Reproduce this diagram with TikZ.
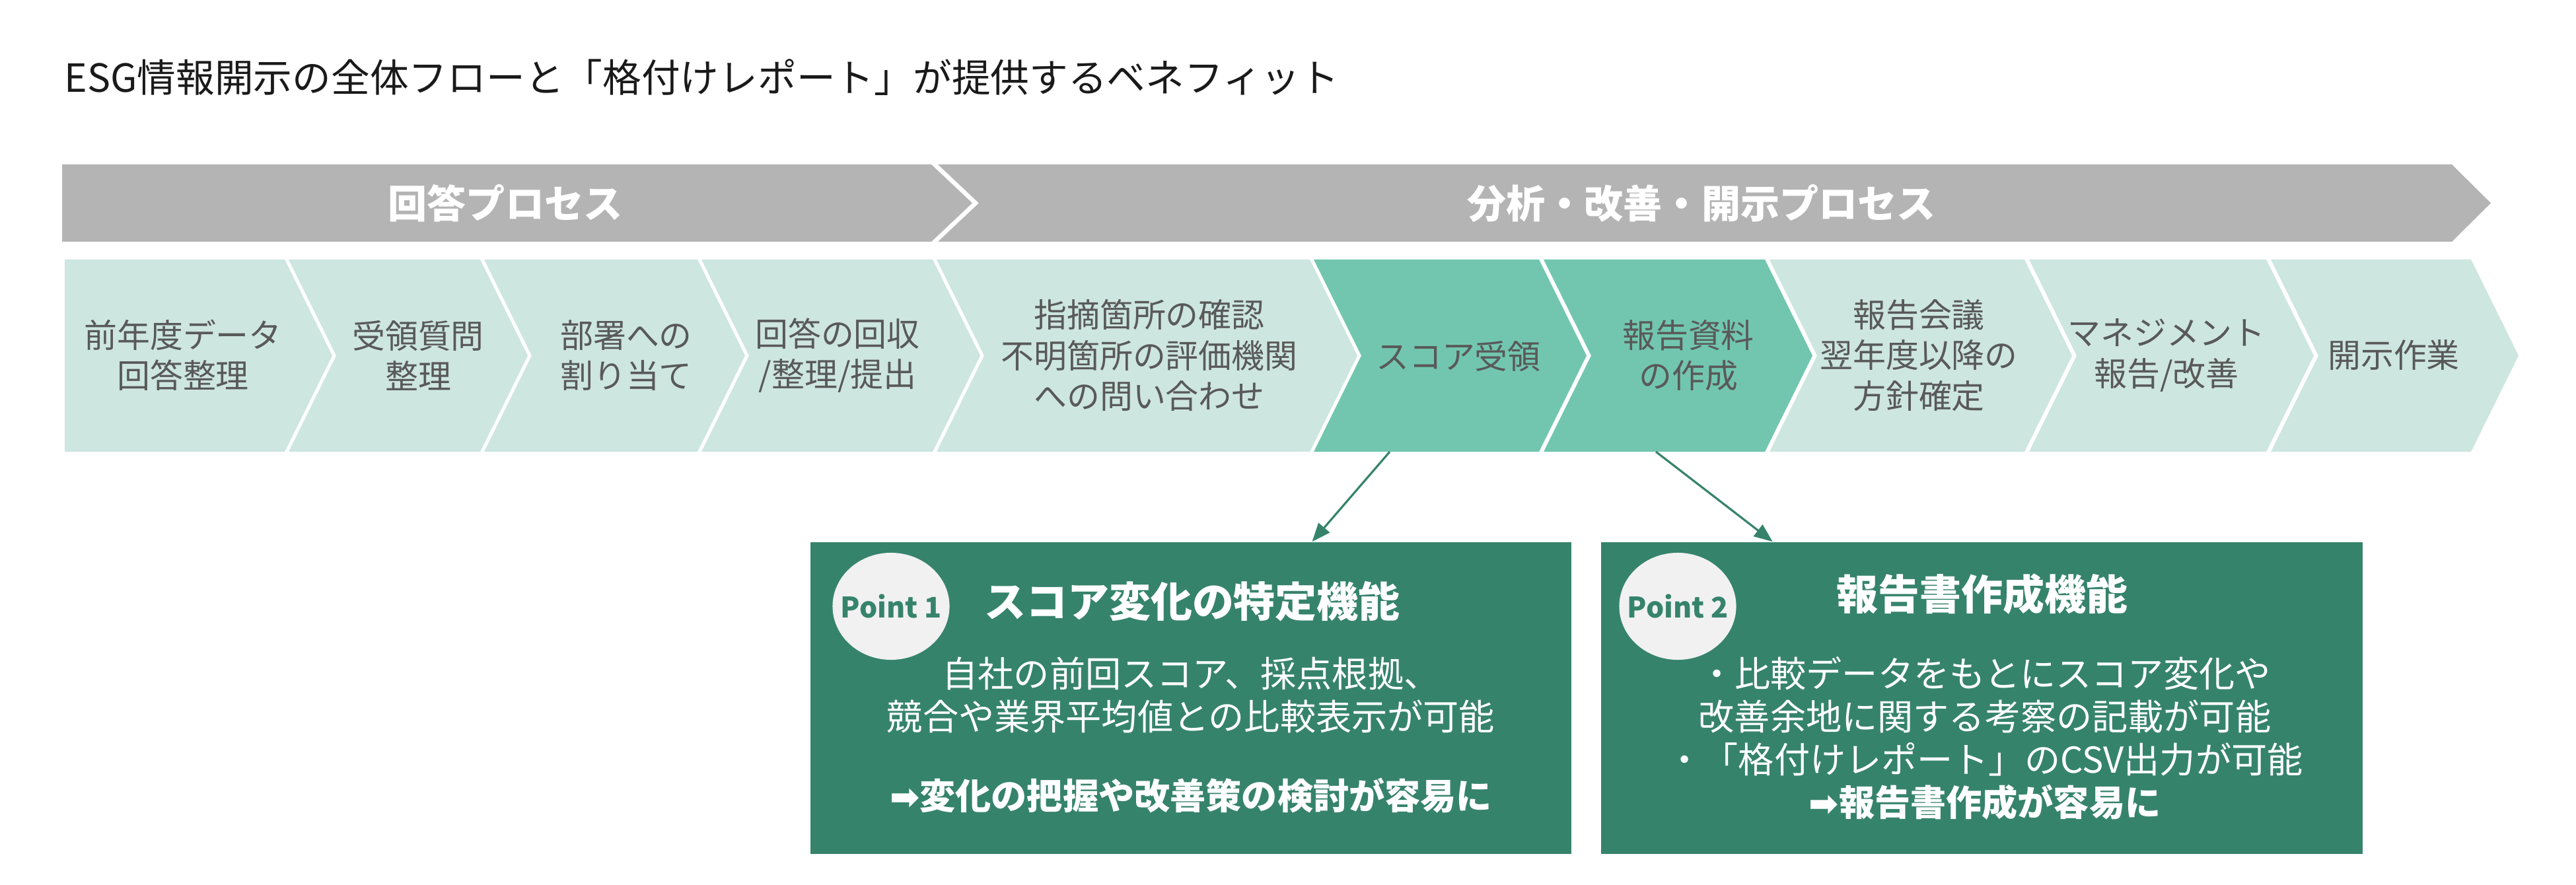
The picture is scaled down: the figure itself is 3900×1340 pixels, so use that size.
\documentclass[tikz,border=0pt]{standalone}
\usepackage{fontspec}
\setmainfont{Noto Sans CJK JP}
\newfontfamily\symfont{DejaVu Sans}
\usetikzlibrary{arrows.meta,calc,shapes.geometric}
\definecolor{ink}{HTML}{1A1A1A}
\definecolor{stepink}{HTML}{595959}
\definecolor{lanegray}{HTML}{B4B4B4}
\definecolor{mint}{HTML}{CDE6DF}
\definecolor{mintmid}{HTML}{72C6AF}
\definecolor{forest}{HTML}{36836C}
\definecolor{badgefill}{HTML}{F1F1F1}
\tikzset{
  lanetext/.style={text=white,inner sep=0pt,font=\fontsize{16.8pt}{20pt}\selectfont\bfseries},
  stepbox/.style={align=center,text=stepink,inner sep=0pt,font=\fontsize{14.2pt}{17.4pt}\selectfont},
  pointbox/.style={fill=forest,minimum width=11.52cm,minimum height=4.72cm,inner sep=0pt},
  badge/.style={ellipse,fill=badgefill,minimum width=1.77cm,minimum height=1.62cm,inner xsep=-0.45cm,inner ysep=0pt,
                text=forest,font=\fontsize{12.2pt}{15pt}\selectfont\bfseries},
  pointtitle/.style={text=white,inner sep=0pt,font=\fontsize{17.9pt}{21pt}\selectfont\bfseries},
  pointtext/.style={text=white,align=center,inner sep=0pt,font=\fontsize{15.4pt}{18.5pt}\selectfont},
  dataflow/.style={-{Triangle[length=0.28cm,width=0.22cm]},line width=0.9pt,draw=forest}
}

\begin{document}
\begin{tikzpicture}[x=0.01cm,y=-0.01cm]
  \useasboundingbox (0,0) rectangle (3900,1340);
  \node[anchor=west,inner sep=0pt,text=ink,font=\fontsize{16.7pt}{19pt}\selectfont] (title) at (97,117)
    {ESG情報開示の全体フローと「格付けレポート」が提供するベネフィット};

  % process lanes
  \fill[lanegray] (94,249) -- (1410,249) -- (1472,307.5) -- (1410,366) -- (94,366) -- cycle;
  \fill[lanegray] (1420,249) -- (3712,249) -- (3771,307.5) -- (3712,366) -- (1420,366) -- (1482,307.5) -- cycle;
  \node[lanetext] (lane1) at (765,308) {回答プロセス};
  \node[lanetext] (lane2) at (2576,308) {分析・改善・開示プロセス};

  % chevrons
  \fill[mint] (98,393) -- (431,393) -- (503,538.5) -- (431,684) -- (98,684) -- cycle;
  \foreach \l/\r/\c in {437/727/mint,733/1056/mint,1062/1412/mint,1418/1983/mint,1989/2330/mintmid,
                        2337/2672/mintmid,2679/3065/mint,3072/3431/mint,3438/3741/mint}
    \fill[\c] (\l,393) -- (\r,393) -- (\r+72,538.5) -- (\r,684) -- (\l,684) -- (\l+72,538.5) -- cycle;

  \node[stepbox] (c1) at (277,538) {前年度データ\\回答整理};
  \node[stepbox] (c2) at (633,538) {受領質問\\整理};
  \node[stepbox] (c3) at (948,538) {部署への\\割り当て};
  \node[stepbox] (c4) at (1268,538) {回答の回収\\/整理/提出};
  \node[stepbox] (c5) at (1740,538) {指摘箇所の確認\\不明箇所の評価機関\\への問い合わせ};
  \node[stepbox] (c6) at (2208,540) {スコア受領};
  \node[stepbox] (c7) at (2556,538) {報告資料\\の作成};
  \node[stepbox] (c8) at (2905,538) {報告会議\\翌年度以降の\\方針確定};
  \node[stepbox] (c9) at (3280,538) {マネジメント\\報告/改善};
  \node[stepbox] (c10) at (3624,538) {開示作業};

  % point boxes
  \node[pointbox] (p1) at (1803,1057) {};
  \node[pointbox] (p2) at (3000.5,1057) {};
  \node[badge] (b1) at (1349,918) {Point 1};
  \node[badge] (b2) at (2540,918) {Point 2};
  \node[pointtitle] (t1) at (1805,911) {スコア変化の特定機能};
  \node[pointtitle] (t2) at (3001,900) {報告書作成機能};
  \node[pointtext] (d1) at (1803,1052.5) {自社の前回スコア、採点根拠、\\競合や業界平均値との比較表示が可能};
  \node[pointtext] (r1) at (1803,1205) {\bfseries{\symfont ➡}変化の把握や改善策の検討が容易に};
  \node[pointtext] (d2) at (3005,1117.5) {・比較データをもとにスコア変化や\\改善余地に関する考察の記載が可能\\
    ・「格付けレポート」のCSV出力が可能\\{\bfseries{\symfont ➡}報告書作成が容易に}};

  \coordinate (s6) at (2104,684);
  \coordinate (s7) at (2507,684);
  \draw[dataflow] (s6) -- ($(p1.north west)!0.659!(p1.north east)$);
  \draw[dataflow] (s7) -- ($(p2.north west)!0.2255!(p2.north east)$);
\end{tikzpicture}
\end{document}
